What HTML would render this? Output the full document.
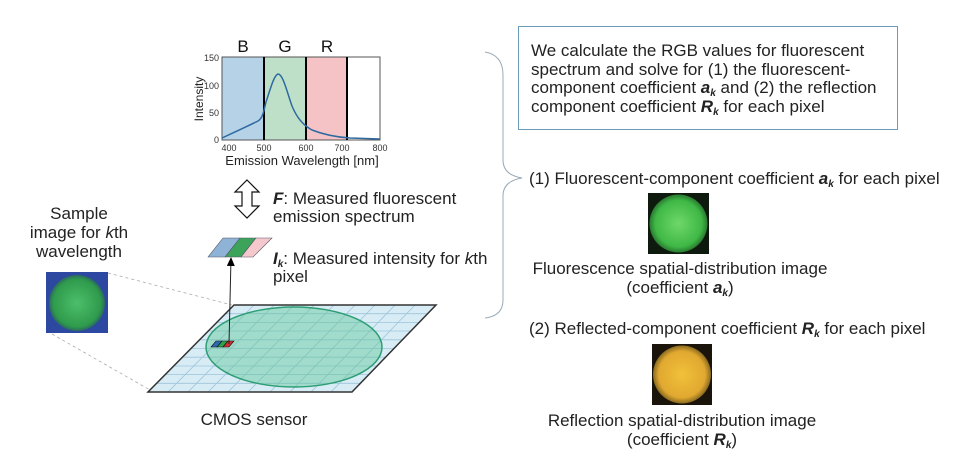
<!DOCTYPE html>
<html><head><meta charset="utf-8"><style>
body{margin:0;background:#fff;}
svg{display:block;font-family:"Liberation Sans",Arial,sans-serif;}
</style></head><body>
<svg width="972" height="473" viewBox="0 0 972 473" xmlns="http://www.w3.org/2000/svg">
<defs>
<radialGradient id="gg" cx="50%" cy="50%" r="50%"><stop offset="0" stop-color="#6fd86a"/><stop offset="0.8" stop-color="#3fb846"/><stop offset="1" stop-color="#2a7a30"/></radialGradient>
<radialGradient id="yg" cx="50%" cy="50%" r="50%"><stop offset="0" stop-color="#f2c13a"/><stop offset="0.8" stop-color="#e0a830"/><stop offset="1" stop-color="#8a6a20"/></radialGradient>
<radialGradient id="sg" cx="50%" cy="50%" r="50%"><stop offset="0" stop-color="#4cbf6a"/><stop offset="0.85" stop-color="#2f9a4c"/><stop offset="1" stop-color="#2a6a60"/></radialGradient>
<marker id="ah" markerWidth="9" markerHeight="8" refX="8" refY="4" orient="auto" markerUnits="userSpaceOnUse"><path d="M0,0 L9,4 L0,8 z" fill="#000"/></marker>
</defs>
<!-- chart -->
<rect x="222" y="57" width="42" height="83" fill="#b5d2e6"/>
<rect x="264" y="57" width="42" height="83" fill="#bfe0c8"/>
<rect x="306" y="57" width="41" height="83" fill="#f5c3c6"/>
<rect x="222" y="57" width="158" height="83" fill="none" stroke="#555" stroke-width="1"/>
<line x1="264" y1="57" x2="264" y2="140" stroke="#000" stroke-width="2"/>
<line x1="306" y1="57" x2="306" y2="140" stroke="#000" stroke-width="2"/>
<line x1="347" y1="57" x2="347" y2="140" stroke="#000" stroke-width="2"/>
<path d="M222,138 C235,132 250,125 258,121 C263,118 264,110 266,102 C270,90 274,75 278,74 C283,74 287,92 292,106 C297,118 303,125 312,130 C322,134 335,137 350,138 L380,139" fill="none" stroke="#2e6aa0" stroke-width="1.5"/>
<g font-size="17" text-anchor="middle" fill="#111"><text x="243" y="52">B</text><text x="285" y="52">G</text><text x="327" y="52">R</text></g>
<g font-size="9" fill="#333" text-anchor="end"><text x="219" y="61">150</text><text x="219" y="89">100</text><text x="219" y="116">50</text><text x="219" y="143">0</text></g>
<g font-size="9" fill="#333" text-anchor="middle"><text x="229" y="151">400</text><text x="264" y="151">500</text><text x="306" y="151">600</text><text x="342" y="151">700</text><text x="380" y="151">800</text></g>
<text x="302" y="165" font-size="13" text-anchor="middle" fill="#222">Emission Wavelength [nm]</text>
<text transform="translate(203,99) rotate(-90)" font-size="12" text-anchor="middle" fill="#222">Intensity</text>
<!-- double arrow -->
<path d="M247,180 L259,192 L252,192 L252,206 L259,206 L247,218 L235,206 L242,206 L242,192 L235,192 Z" fill="#fff" stroke="#111" stroke-width="1.2"/>
<g font-size="17" fill="#222">
<text x="273" y="204"><tspan font-weight="bold" font-style="italic">F</tspan>: Measured fluorescent</text>
<text x="273" y="222">emission spectrum</text>
<text x="273" y="264"><tspan font-weight="bold" font-style="italic">I<tspan font-size="10" dy="3">k</tspan></tspan><tspan dy="-3">: Measured intensity for </tspan><tspan font-style="italic">k</tspan>th</text>
<text x="273" y="282">pixel</text>
</g>
<!-- pixel strip -->
<polygon points="208,257 223,238 240,238 225,257" fill="#8fb3d6" stroke="#556" stroke-width="0.6"/>
<polygon points="225,257 240,238 256,238 241,257" fill="#3ca35a" stroke="#556" stroke-width="0.6"/>
<polygon points="241,257 256,238 272,238 253,257" fill="#f4c8cc" stroke="#556" stroke-width="0.6"/>
<!-- sample -->
<g font-size="17" fill="#222" text-anchor="middle">
<text x="79" y="219">Sample</text>
<text x="79" y="238">image for <tspan font-style="italic">k</tspan>th</text>
<text x="79" y="257">wavelength</text>
</g>
<rect x="46" y="272" width="62" height="61" fill="#2c48a0"/>
<circle cx="77" cy="303" r="28" fill="url(#sg)"/>
<line x1="108" y1="273" x2="232" y2="305" stroke="#aaa" stroke-dasharray="3,3" stroke-width="0.8"/>
<line x1="52" y1="334" x2="150" y2="390" stroke="#aaa" stroke-dasharray="3,3" stroke-width="0.8"/>
<!-- sensor -->
<polygon points="234,305 436,305 352,392 148,392" fill="#d8ecf6"/>
<g stroke="#9cc4d8" stroke-width="0.8">
<line x1="226" y1="313.7" x2="428" y2="313.7"/><line x1="217" y1="322.4" x2="420" y2="322.4"/><line x1="209" y1="331" x2="411" y2="331"/><line x1="200" y1="339.8" x2="403" y2="339.8"/><line x1="191" y1="348.5" x2="394" y2="348.5"/><line x1="183" y1="357.2" x2="386" y2="357.2"/><line x1="174" y1="366" x2="377" y2="366"/><line x1="166" y1="374.6" x2="369" y2="374.6"/><line x1="157" y1="383.3" x2="360" y2="383.3"/>
<line x1="254" y1="305" x2="168" y2="392"/><line x1="274" y1="305" x2="188" y2="392"/><line x1="294" y1="305" x2="208" y2="392"/><line x1="314" y1="305" x2="228" y2="392"/><line x1="334" y1="305" x2="248" y2="392"/><line x1="355" y1="305" x2="270" y2="392"/><line x1="375" y1="305" x2="290" y2="392"/><line x1="395" y1="305" x2="311" y2="392"/><line x1="415" y1="305" x2="331" y2="392"/>
</g>
<ellipse cx="294" cy="347" rx="88" ry="40" fill="#5fc79a" fill-opacity="0.45" stroke="#2e9e74" stroke-width="1.5"/>
<polygon points="234,305 436,305 352,392 148,392" fill="none" stroke="#333" stroke-width="1.5"/>
<polygon points="211,347 216,341 222,341 217,347" fill="#2e6ab0" stroke="#111" stroke-width="0.6"/>
<polygon points="217,347 222,341 228,341 223,347" fill="#2fa050" stroke="#111" stroke-width="0.6"/>
<polygon points="223,347 228,341 234,341 229,347" fill="#d03030" stroke="#111" stroke-width="0.6"/>
<line x1="229" y1="344" x2="231" y2="258" stroke="#222" stroke-width="1" marker-end="url(#ah)"/>
<text x="254" y="425" font-size="17" fill="#222" text-anchor="middle">CMOS sensor</text>
<!-- brace -->
<path d="M485,52 Q503,55 503,75 L503,160 Q503,175 522,178 Q503,181 503,196 L503,300 Q503,316 485,318" fill="none" stroke="#9aaab8" stroke-width="1"/>
<!-- box -->
<rect x="518.5" y="26.5" width="379" height="103" fill="#fff" stroke="#6a9ab8" stroke-width="1"/>
<g font-size="17" fill="#222">
<text x="531" y="56">We calculate the RGB values for fluorescent</text>
<text x="531" y="75">spectrum and solve for (1) the fluorescent-</text>
<text x="531" y="93">component coefficient <tspan font-weight="bold" font-style="italic">a<tspan font-size="10" dy="3">k</tspan></tspan><tspan dy="-3"> and (2) the reflection</tspan></text>
<text x="531" y="112">component coefficient <tspan font-weight="bold" font-style="italic">R<tspan font-size="10" dy="3">k</tspan></tspan><tspan dy="-3"> for each pixel</tspan></text>
<text x="529" y="184">(1) Fluorescent-component coefficient <tspan font-weight="bold" font-style="italic">a<tspan font-size="10" dy="3">k</tspan></tspan><tspan dy="-3"> for each pixel</tspan></text>
<text x="680" y="274" text-anchor="middle">Fluorescence spatial-distribution image</text>
<text x="680" y="293" text-anchor="middle">(coefficient <tspan font-weight="bold" font-style="italic">a<tspan font-size="10" dy="3">k</tspan></tspan><tspan dy="-3">)</tspan></text>
<text x="529" y="334">(2) Reflected-component coefficient <tspan font-weight="bold" font-style="italic">R<tspan font-size="10" dy="3">k</tspan></tspan><tspan dy="-3"> for each pixel</tspan></text>
<text x="682" y="426" text-anchor="middle">Reflection spatial-distribution image</text>
<text x="682" y="445" text-anchor="middle">(coefficient <tspan font-weight="bold" font-style="italic">R<tspan font-size="10" dy="3">k</tspan></tspan><tspan dy="-3">)</tspan></text>
</g>
<rect x="648" y="193" width="61" height="61" fill="#0e1a0e"/>
<circle cx="678.5" cy="223.5" r="29" fill="url(#gg)"/>
<rect x="652" y="344" width="60" height="61" fill="#1a140a"/>
<circle cx="682" cy="374.5" r="29" fill="url(#yg)"/>
</svg>
</body></html>
